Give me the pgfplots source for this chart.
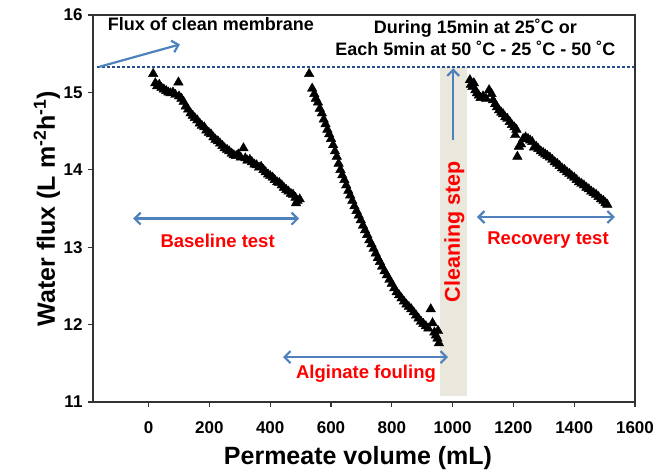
\documentclass[border=0pt]{standalone}
\usepackage{pgfplots}
\pgfplotsset{compat=1.18}
\usepackage{fontspec}
\setmainfont{Liberation Sans}
\usetikzlibrary{arrows.meta}
\newcommand\fs[1]{\fontsize{#1}{#1}\selectfont}
\definecolor{arrowblue}{HTML}{4F81BD}
\definecolor{dotblue}{HTML}{254D8E}
\definecolor{bandcol}{HTML}{EAE7DC}
\begin{document}
\begin{tikzpicture}
\begin{axis}[
  at={(0pt,0pt)}, anchor=south west,
  scale only axis, width=542pt, height=387pt,
  xmin=-183, xmax=1600, ymin=11, ymax=16,
  xtick={0,200,...,1600}, ytick={11,12,...,16},
  xtick pos=bottom, ytick pos=left, tick align=outside,
  major tick length=5pt,
  axis line style={black, line width=1.2pt},
  every tick/.style={black, line width=1.2pt},
  ticklabel style={font=\bfseries\fs{17}},
  /pgf/number format/assume math mode=true,
  /pgf/number format/1000 sep={},
  xticklabel style={yshift=-11pt},
  yticklabel style={xshift=-2pt},
  xlabel={Permeate volume (mL)},
  ylabel={Water flux (L m\textsuperscript{-2}h\textsuperscript{-1})},
  label style={font=\bfseries\fs{25}},
  xlabel style={at={(axis description cs:0.489,-0.145)}, anchor=center},
  ylabel style={at={(axis description cs:-0.085,0.5)}, anchor=center},
  clip=false, unbounded coords=jump,
]
% cleaning band
\addplot[fill=bandcol, draw=none] coordinates {(959,11.08) (959,15.33) (1047,15.33) (1047,11.08)};
% clean membrane flux
\addplot[dotblue, line width=2.6pt, dash pattern=on 2.6pt off 2.4pt] coordinates {(-170,15.33) (1600,15.33)};
% baseline test
\addplot[only marks, mark=triangle*, mark size=5.5pt, black] coordinates {
(15,15.24) (22,15.12) (28,15.08) (35,15.10) (42,15.06) (50,15.04) (58,15.02) (65,15.00)
(72,14.99) (80,15.00) (88,14.97) (98,15.13) (100,14.95) (108,14.92) (115,14.88) (122,14.82)
(130,14.78) (138,14.73) (145,14.70) (152,14.67) (160,14.64) (168,14.60) (175,14.57) (183,14.55)
(190,14.51) (198,14.48) (205,14.46) (213,14.42) (220,14.39) (228,14.37) (235,14.34) (243,14.31)
(250,14.28) (258,14.26) (265,14.24) (273,14.21) (280,14.19) (288,14.18) (295,14.20) (303,14.16)
(312,14.28) (318,14.15) (325,14.12) (333,14.13) (340,14.10) (348,14.07) (355,14.06) (363,14.03)
(370,14.04) (378,14.00) (385,13.97) (393,13.94) (400,13.92) (408,13.90) (415,13.87) (423,13.84)
(430,13.83) (438,13.80) (445,13.77) (453,13.74) (460,13.72) (468,13.69) (475,13.68) (483,13.64)
(490,13.60) (497,13.62) (485,13.57)
};
% alginate fouling
\addplot[only marks, mark=triangle*, mark size=5.5pt, black] coordinates {
(528,15.24) (538,15.05) (545,14.98) (550,14.92) (557,14.87) (563,14.79) (570,14.73) (576,14.65)
(582,14.59) (588,14.52) (594,14.46) (600,14.40) (607,14.32) (613,14.24) (619,14.17) (625,14.08)
(631,14.00) (637,13.93) (644,13.87) (650,13.80) (657,13.73) (663,13.67) (670,13.60) (677,13.53)
(684,13.47) (691,13.41) (698,13.35) (705,13.28) (712,13.22) (719,13.16) (726,13.09) (733,13.04)
(740,12.98) (747,12.92) (754,12.86) (761,12.81) (768,12.75) (776,12.69) (784,12.64) (792,12.58)
(800,12.53) (808,12.47) (816,12.42) (824,12.38) (832,12.34) (840,12.30) (848,12.26) (856,12.23)
(864,12.20) (872,12.16) (880,12.12) (888,12.08) (896,12.04) (904,12.01) (912,11.98) (920,11.95)
(928,12.20) (934,12.02) (940,11.90) (945,11.86) (950,11.82) (955,11.76) (952,11.92)
};
% recovery test
\addplot[only marks, mark=triangle*, mark size=5.5pt, black] coordinates {
(1057,15.16) (1060,15.10) (1065,15.07) (1070,15.12) (1075,15.03) (1080,14.99) (1086,14.96) (1092,14.93)
(1100,14.95) (1110,14.92) (1120,15.03) (1128,14.98) (1133,14.90) (1140,14.85) (1146,14.81) (1153,14.77)
(1160,14.74) (1166,14.72) (1173,14.68) (1180,14.66) (1188,14.62) (1195,14.58) (1203,14.55) (1210,14.52)
(1206,14.45) (1213,14.17) (1218,14.30) (1225,14.33) (1232,14.40) (1240,14.42) (1248,14.40) (1255,14.38)
(1262,14.36) (1268,14.29) (1275,14.30) (1282,14.27) (1290,14.24) (1298,14.22) (1305,14.20) (1312,14.18)
(1320,14.16) (1328,14.13) (1336,14.10) (1344,14.08) (1352,14.05) (1360,14.02) (1368,14.00) (1376,13.97)
(1384,13.95) (1392,13.92) (1400,13.90) (1408,13.87) (1416,13.84) (1424,13.82) (1432,13.80) (1440,13.77)
(1448,13.75) (1456,13.72) (1464,13.70) (1472,13.68) (1480,13.65) (1488,13.62) (1496,13.60) (1503,13.57)
(1509,13.55)
};
% annotation arrows
\addplot[arrowblue, line width=2.2pt, -{Straight Barb[length=6pt,width=12pt]}] coordinates {(-163,15.33) (103,15.62)};
\addplot[arrowblue, line width=2.2pt, {Straight Barb[length=6pt,width=12pt]}-{Straight Barb[length=6pt,width=12pt]}] coordinates {(-51,13.37) (495,13.37)};
\addplot[arrowblue, line width=2.2pt, {Straight Barb[length=6pt,width=12pt]}-{Straight Barb[length=6pt,width=12pt]}] coordinates {(442,11.58) (985,11.58)};
\addplot[arrowblue, line width=2.2pt, {Straight Barb[length=6pt,width=12pt]}-{Straight Barb[length=6pt,width=12pt]}] coordinates {(1080,13.39) (1534,13.39)};
\addplot[arrowblue, line width=2.2pt, -{Straight Barb[length=6pt,width=12pt]}] coordinates {(1002,14.39) (1002,15.31)};
% frame and outward ticks as plotted paths
\addplot[black!80, line width=1.2pt] coordinates {(-183,11) (1600,11) (1600,16) (-183,16) (-183,11)};
\addplot[black!80, line width=1.2pt] coordinates {
(0,11) (0,10.935) (nan,nan) (200,11) (200,10.935) (nan,nan) (400,11) (400,10.935) (nan,nan)
(600,11) (600,10.935) (nan,nan) (800,11) (800,10.935) (nan,nan) (1000,11) (1000,10.935) (nan,nan)
(1200,11) (1200,10.935) (nan,nan) (1400,11) (1400,10.935) (nan,nan) (1600,11) (1600,10.935)
};
\addplot[black!80, line width=1.2pt] coordinates {
(-183,11) (-199.4,11) (nan,nan) (-183,12) (-199.4,12) (nan,nan) (-183,13) (-199.4,13) (nan,nan)
(-183,14) (-199.4,14) (nan,nan) (-183,15) (-199.4,15) (nan,nan) (-183,16) (-199.4,16)
};
% texts
\node[font=\bfseries\fs{18}] at (axis cs:205,15.88) {Flux of clean membrane};
\node[font=\bfseries\fontsize{18}{22}\selectfont, align=center] at (axis cs:1075,15.71) {During 15min at 25˚C or\\Each 5min at 50 ˚C - 25 ˚C - 50 ˚C};
\node[font=\bfseries\fs{18.5}, text=red] at (axis cs:227,13.08) {Baseline test};
\node[font=\bfseries\fs{18.5}, text=red] at (axis cs:715,11.36) {Alginate fouling};
\node[font=\bfseries\fs{18.5}, text=red] at (axis cs:1314,13.09) {Recovery test};
\node[font=\bfseries\fs{21.5}, text=red, rotate=90] at (axis cs:1006,13.2) {Cleaning step};
\end{axis}
\path (-93pt,-74pt) rectangle (574pt,402pt);
\end{tikzpicture}
\end{document}
